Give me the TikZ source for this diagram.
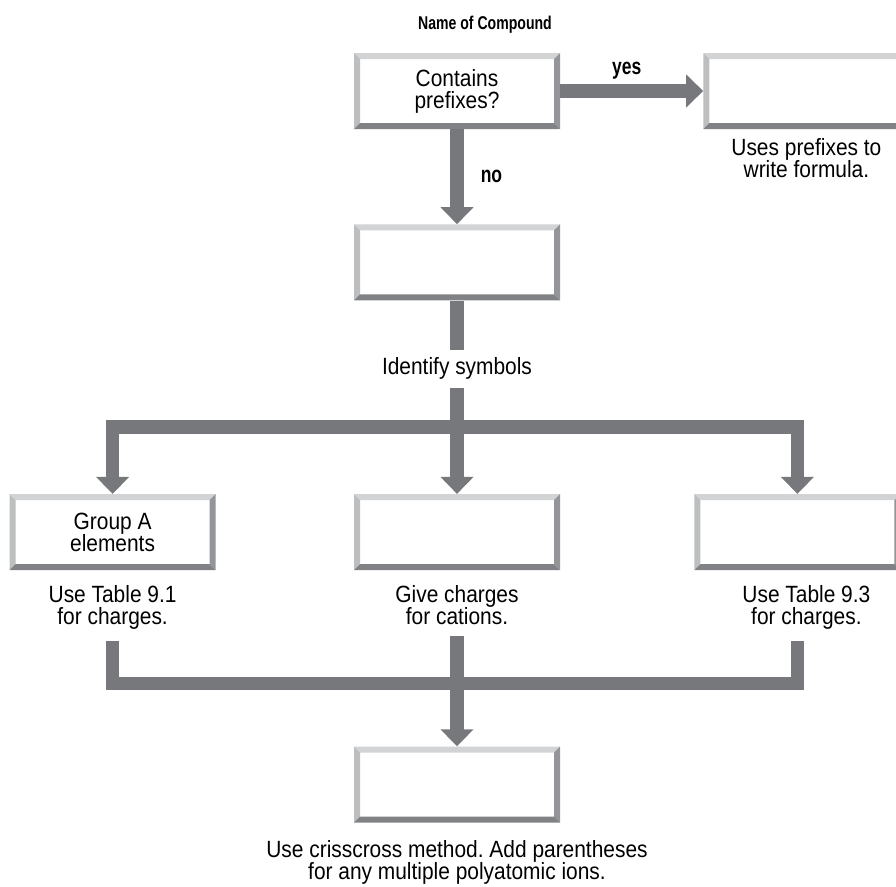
\documentclass[tikz,border=0pt]{standalone}
\usepackage{fontspec}
\setmainfont{Liberation Sans}[FakeStretch=0.89]
\newfontfamily\headfont{Liberation Sans}[FakeStretch=0.76]
\usetikzlibrary{positioning}
\usetikzlibrary{arrows.meta}
\frenchspacing
\definecolor{flowgray}{HTML}{77787B}
\definecolor{bevtop}{HTML}{D1D3D4}
\definecolor{bevleft}{HTML}{BCBEC0}
\definecolor{bevright}{HTML}{939598}
\definecolor{bevbottom}{HTML}{808285}
\tikzset{box/.style={ % Bevelled box, the frame is drawn inside the node
      rectangle, minimum width=206pt, minimum height=76pt, inner sep=0pt,
      fill=white, align=center,
      path picture={
        \coordinate (bnw) at (path picture bounding box.north west);
        \coordinate (bne) at (path picture bounding box.north east);
        \coordinate (bse) at (path picture bounding box.south east);
        \coordinate (bsw) at (path picture bounding box.south west);
        \fill[bevtop] (bnw) -- (bne) -- ([shift={(-6pt,-6pt)}]bne) -- ([shift={(6pt,-6pt)}]bnw) -- cycle;
        \fill[bevleft] (bnw) -- ([shift={(6pt,-6pt)}]bnw) -- ([shift={(6pt,6pt)}]bsw) -- (bsw) -- cycle;
        \fill[bevright] (bne) -- (bse) -- ([shift={(-6pt,6pt)}]bse) -- ([shift={(-6pt,-6pt)}]bne) -- cycle;
        \fill[bevbottom] (bsw) -- ([shift={(6pt,6pt)}]bsw) -- ([shift={(-6pt,6pt)}]bse) -- (bse) -- cycle;
      }},
      note/.style={align=center, inner sep=0pt}, % Text under a box
      head/.style={font=\headfont\bfseries\fontsize{23pt}{23pt}\selectfont, inner sep=0pt},
      toptext/.style={font=\headfont\bfseries\fontsize{18.5pt}{20pt}\selectfont, inner sep=0pt},
      bar/.style={draw=flowgray, line width=13.5pt}, % Thick connector
      flow/.style={bar, -{Triangle[width=32pt, length=17pt]}}} % Thick arrow

\begin{document}
\begin{tikzpicture}[x=1pt, y=-1pt, font=\fontsize{23.5pt}{22pt}\selectfont]
      \useasboundingbox (0,0) rectangle (896,886);
      \node[box] (pref) at (457,91) {Contains\\prefixes?};
      \node[box, right=143pt of pref] (uses) {};
      \node[box, below=95pt of pref] (symb) {};
      \node[toptext, above=19pt of pref, xshift=28pt] (title) {Name of Compound};
      \node[note, below=9pt of uses] (usesnote) {Uses prefixes to\\write formula.};
      \node[note, below=57pt of symb] (symbnote) {Identify symbols};
      \coordinate[below=47pt of symbnote.south] (split);
      \node[box, below=67pt of split] (cent) {};
      \node[box, left=138pt of cent] (grpa) {Group A\\elements};
      \node[box, right=134pt of cent] (trans) {};
      \node[note, below=15pt of grpa] (grpanote) {Use Table 9.1\\for charges.};
      \node[note, below=15pt of cent] (centnote) {Give charges\\for cations.};
      \node[note, below=15pt of trans, xshift=9pt] (transnote) {Use Table 9.3\\for charges.};
      \node[box, below=176pt of cent] (cross) {};
      \coordinate[above=63pt of cross.north] (merge);
      \node[note, below=18pt of cross] (crossnote) {Use crisscross method. Add parentheses\\for any multiple polyatomic ions.};
      \draw[flow] (pref) -- node[head, midway, above=5pt, xshift=-5pt] {yes} (uses);
      \draw[flow] (pref) -- node[head, midway, right=17pt] {no} (symb);
      \draw[bar, shorten >=8pt] (symb) -- (symbnote);
      \draw[bar, shorten <=8pt] (symbnote) -- (split);
      \draw[flow] (split) -| (grpa);
      \draw[flow] (split) -- (cent);
      \draw[flow] (split) -| (trans);
      \draw[bar, shorten <=11pt] (grpanote.south -| grpa) |- (merge);
      \draw[bar, shorten <=11pt] (transnote.south -| trans) |- (merge);
      \draw[flow, shorten <=11pt] (centnote) -- (cross);
\end{tikzpicture}
\end{document}
